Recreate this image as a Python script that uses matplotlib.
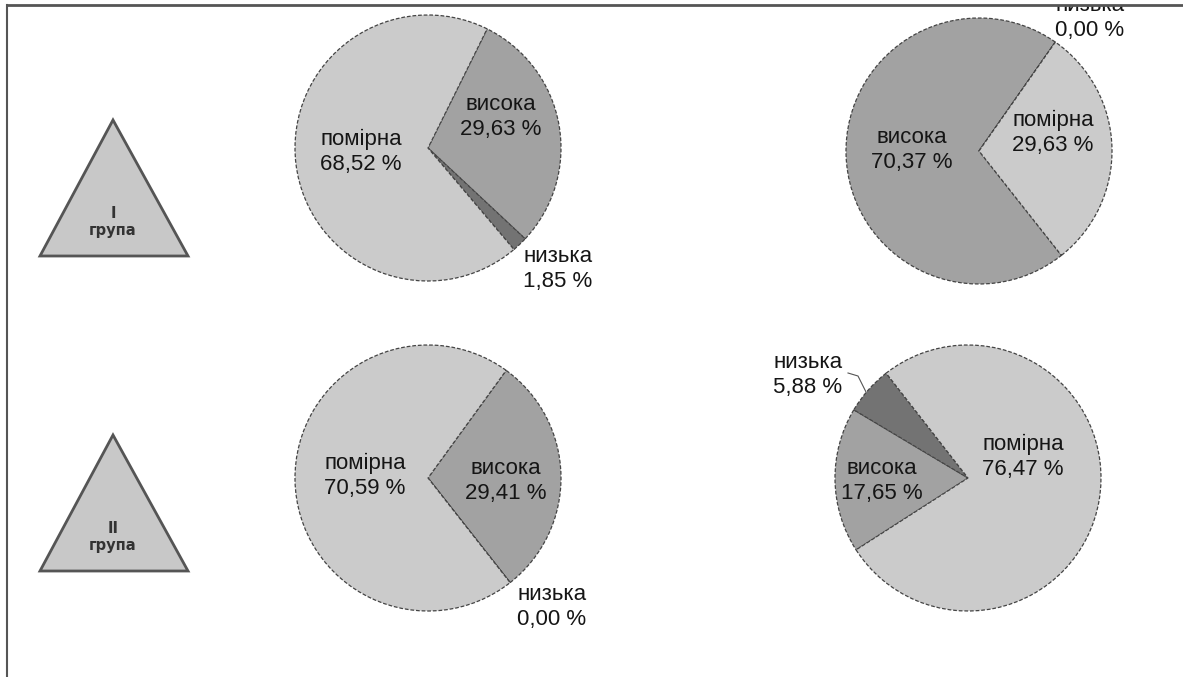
import matplotlib
matplotlib.use("Agg")
import matplotlib.pyplot as plt
from matplotlib.patches import Polygon, Rectangle

W, H = 1183, 677

# category order = clockwise order of wedges in every pie
categories = ["висока", "низька", "помірна"]
group1_left = [29.63, 1.85, 68.52]
group1_right = [70.37, 0.00, 29.63]
group2_left = [29.41, 0.00, 70.59]
group2_right = [17.65, 5.88, 76.47]
group_names = ["I\nгрупа", "II\nгрупа"]

colors = ["#a2a2a2", "#737373", "#cbcbcb"]


def pct(v):
    return f"{v:.2f}".replace(".", ",") + " %"


def Y(y):
    return H - y


fig = plt.figure(figsize=(W / 100, H / 100), dpi=100)
ax = fig.add_axes([0, 0, 1, 1])

# (values, centre, start angle, label positions per category)
pies = [
    (group1_left, (428, 148), 63.6, [(501, 117), (558, 269), (361, 152)]),
    (group1_right, (979, 151), -51.7, [(912, 150), (1090, 18), (1053, 133)]),
    (group2_left, (428, 478), 54.0, [(506, 481), (552, 607), (365, 476)]),
    (group2_right, (968, 478), 212.7, [(882, 481), (808, 375), (1023, 457)]),
]

for vals, (cx, cy), start, lpos in pies:
    ax.pie(vals, colors=colors, startangle=start, counterclock=False,
           center=(cx, Y(cy)), radius=133, frame=True,
           wedgeprops=dict(edgecolor="#444444", linewidth=0.9,
                           linestyle=(0, (3, 1.5))))
    for cat, v, (tx, ty) in zip(categories, vals, lpos):
        ax.text(tx, Y(ty), cat + "\n" + pct(v), ha="center", va="center",
                fontsize=16, family="Liberation Sans", color="#151515",
                linespacing=1.25, zorder=5)

# leader line for the small slice
ax.plot([848, 858, 866], [Y(373), Y(376), Y(392)], color="#555555", lw=0.8)

# group triangles
for name, top in zip(group_names, [120, 435]):
    tri = Polygon([(113, Y(top)), (40, Y(top + 136)), (188, Y(top + 136))],
                  closed=True, facecolor="#c8c8c8", edgecolor="#555555",
                  lw=2, zorder=3)
    ax.add_patch(tri)
    ax.text(113, Y(top + 102), name, ha="center", va="center", fontsize=10.5,
            fontweight="bold", family="DejaVu Sans", color="#333333",
            linespacing=1.2, zorder=4)

# frame: white strip at the top hides the clipped label, then border lines
ax.add_patch(Rectangle((0, Y(5)), W, 5, facecolor="white", edgecolor="none", zorder=8))
ax.plot([7, W], [Y(5), Y(5)], color="#555555", lw=2, zorder=9)
ax.plot([7, 7], [Y(5), 0], color="#555555", lw=1.5, zorder=9)

ax.set_xlim(0, W)
ax.set_ylim(0, H)
ax.set_aspect("equal")
ax.axis("off")

fig.savefig("out.png", dpi=100)
